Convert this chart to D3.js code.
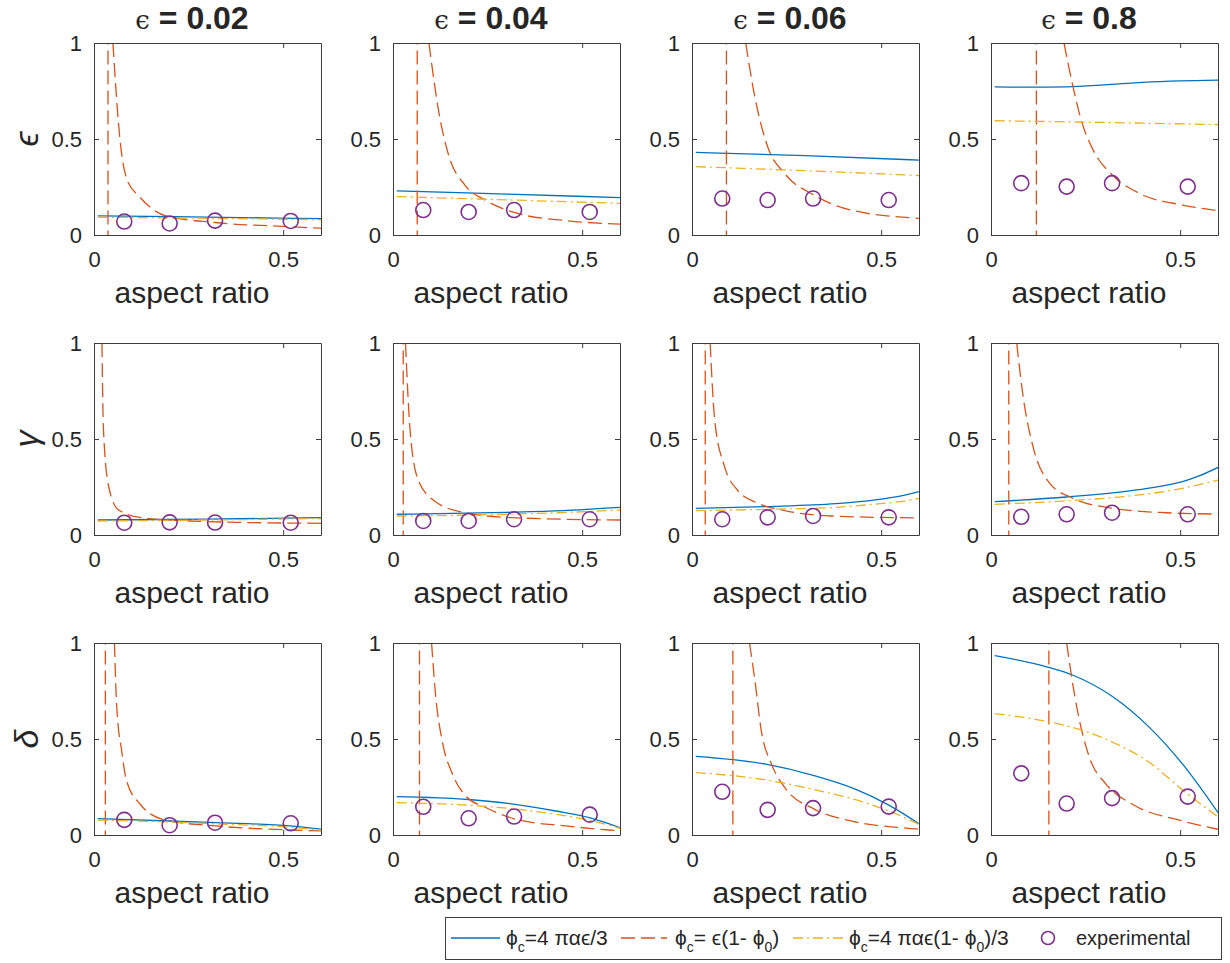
<!DOCTYPE html>
<html>
<head>
<meta charset="utf-8">
<script src="https://cdn.jsdelivr.net/npm/d3@7"></script>
<style>
  body { margin: 0; background: #fff; }
  text { font-family: "Liberation Sans", Arial, sans-serif; fill: #262626; }
</style>
</head>
<body>
<svg id="chart" width="1230" height="963"></svg>
<script>
// column titles (epsilon) and row quantities
const epsilonValues = ['0.02', '0.04', '0.06', '0.8'];
const rowLabels = ['ϵ', 'γ', 'δ'];
const xTicks = [0, 0.5];
const yTicks = [0, 0.5, 1];
const experimentalX = [0.08, 0.2, 0.32, 0.52];

// phi_c = 4 pi alpha eps / 3   [row][col] -> [aspect ratio, value]
const blueSeries = [
  [
    [[0.01, 0.10], [0.3, 0.093], [0.6, 0.085]],
    [[0.01, 0.23], [0.3, 0.213], [0.6, 0.195]],
    [[0.01, 0.43], [0.3, 0.413], [0.6, 0.39]],
    [[0.01, 0.772], [0.1, 0.77], [0.2, 0.772], [0.3, 0.782], [0.4, 0.795], [0.5, 0.803], [0.6, 0.807]]
  ],
  [
    [[0.01, 0.078], [0.3, 0.083], [0.6, 0.09]],
    [[0.01, 0.108], [0.3, 0.118], [0.45, 0.127], [0.6, 0.144]],
    [[0.01, 0.139], [0.2, 0.148], [0.38, 0.163], [0.48, 0.182], [0.55, 0.202], [0.6, 0.226]],
    [[0.01, 0.174], [0.2, 0.198], [0.375, 0.232], [0.45, 0.255], [0.506, 0.278], [0.55, 0.308], [0.6, 0.352]]
  ],
  [
    [[0.01, 0.085], [0.2, 0.073], [0.323, 0.064], [0.519, 0.047], [0.6, 0.03]],
    [[0.01, 0.2], [0.2, 0.185], [0.323, 0.16], [0.43, 0.125], [0.519, 0.09], [0.6, 0.038]],
    [[0.01, 0.41], [0.192, 0.37], [0.323, 0.309], [0.43, 0.24], [0.519, 0.157], [0.6, 0.059]],
    [[0.01, 0.934], [0.147, 0.876], [0.217, 0.832], [0.322, 0.72], [0.418, 0.562], [0.506, 0.37], [0.6, 0.117]]
  ]
];

// phi_c = eps (1 - phi_0)
const redSeries = [
  [
    [[0.05, 1.0], [0.069, 0.49], [0.087, 0.29], [0.12, 0.2], [0.19, 0.10], [0.32, 0.065], [0.52, 0.043], [0.6, 0.035]],
    [[0.095, 1.0], [0.122, 0.63], [0.148, 0.41], [0.19, 0.26], [0.245, 0.18], [0.323, 0.116], [0.457, 0.075], [0.6, 0.057]],
    [[0.142, 1.0], [0.166, 0.72], [0.2, 0.46], [0.245, 0.32], [0.325, 0.205], [0.42, 0.13], [0.6, 0.087]],
    [[0.193, 1.0], [0.217, 0.77], [0.239, 0.595], [0.27, 0.443], [0.322, 0.31], [0.392, 0.217], [0.506, 0.156], [0.6, 0.127]]
  ],
  [
    [[0.021, 1.0], [0.025, 0.55], [0.039, 0.25], [0.065, 0.13], [0.128, 0.09], [0.253, 0.073], [0.378, 0.066], [0.6, 0.061]],
    [[0.033, 1.0], [0.045, 0.55], [0.066, 0.29], [0.108, 0.18], [0.19, 0.116], [0.317, 0.09], [0.6, 0.078]],
    [[0.048, 1.0], [0.06, 0.6], [0.086, 0.356], [0.12, 0.234], [0.175, 0.165], [0.245, 0.127], [0.368, 0.099], [0.6, 0.089]],
    [[0.068, 1.0], [0.085, 0.72], [0.111, 0.46], [0.155, 0.27], [0.217, 0.191], [0.322, 0.139], [0.462, 0.116], [0.6, 0.109]]
  ],
  [
    [[0.054, 1.0], [0.06, 0.67], [0.073, 0.44], [0.086, 0.283], [0.122, 0.16], [0.19, 0.077], [0.323, 0.047], [0.519, 0.026], [0.6, 0.021]],
    [[0.102, 1.0], [0.113, 0.72], [0.13, 0.49], [0.157, 0.318], [0.192, 0.204], [0.245, 0.143], [0.325, 0.082], [0.457, 0.047], [0.571, 0.026], [0.6, 0.022]],
    [[0.152, 1.0], [0.166, 0.81], [0.183, 0.545], [0.21, 0.37], [0.245, 0.248], [0.323, 0.135], [0.42, 0.073], [0.571, 0.035], [0.6, 0.03]],
    [[0.2, 1.0], [0.213, 0.824], [0.232, 0.614], [0.26, 0.405], [0.304, 0.265], [0.374, 0.16], [0.506, 0.073], [0.6, 0.03]]
  ]
];

// aspect ratio where the red curve jumps (drawn as a vertical dashed segment)
const redPole = [
  [0.037, 0.064, 0.091, 0.12],
  [null, 0.027, 0.035, 0.047],
  [0.03, 0.07, 0.108, 0.153]
];

// phi_c = 4 pi alpha eps (1 - phi_0) / 3
const yellowSeries = [
  [
    [[0.01, 0.093], [0.3, 0.087], [0.6, 0.08]],
    [[0.01, 0.20], [0.3, 0.183], [0.6, 0.165]],
    [[0.01, 0.356], [0.3, 0.335], [0.6, 0.31]],
    [[0.01, 0.595], [0.3, 0.586], [0.6, 0.575]]
  ],
  [
    [[0.01, 0.073], [0.3, 0.078], [0.6, 0.086]],
    [[0.01, 0.099], [0.3, 0.108], [0.45, 0.117], [0.6, 0.13]],
    [[0.01, 0.127], [0.2, 0.134], [0.38, 0.144], [0.48, 0.16], [0.55, 0.174], [0.6, 0.191]],
    [[0.01, 0.16], [0.2, 0.178], [0.375, 0.205], [0.45, 0.224], [0.506, 0.243], [0.55, 0.262], [0.6, 0.286]]
  ],
  [
    [[0.01, 0.077], [0.2, 0.068], [0.323, 0.058], [0.519, 0.04], [0.6, 0.025]],
    [[0.01, 0.169], [0.2, 0.155], [0.323, 0.135], [0.43, 0.108], [0.519, 0.077], [0.6, 0.035]],
    [[0.01, 0.325], [0.192, 0.288], [0.323, 0.236], [0.43, 0.185], [0.519, 0.126], [0.6, 0.056]],
    [[0.01, 0.632], [0.147, 0.592], [0.234, 0.55], [0.322, 0.483], [0.418, 0.379], [0.506, 0.235], [0.6, 0.094]]
  ]
];

// experimental values at experimentalX
const experimentalY = [
  [[0.07, 0.06, 0.075, 0.073], [0.13, 0.12, 0.13, 0.12], [0.19, 0.182, 0.19, 0.182], [0.27, 0.252, 0.27, 0.252]],
  [[0.064, 0.066, 0.065, 0.064], [0.073, 0.073, 0.082, 0.082], [0.082, 0.092, 0.099, 0.092], [0.095, 0.108, 0.116, 0.108]],
  [[0.079, 0.051, 0.064, 0.061], [0.147, 0.087, 0.096, 0.106], [0.225, 0.131, 0.14, 0.148], [0.321, 0.164, 0.192, 0.2]]
];

const legendLabels = [
  [{ t: 'ϕ' }, { t: 'c', sub: true }, { t: '=4 παϵ/3' }],
  [{ t: 'ϕ' }, { t: 'c', sub: true }, { t: '= ϵ(1- ϕ' }, { t: '0', sub: true }, { t: ')' }],
  [{ t: 'ϕ' }, { t: 'c', sub: true }, { t: '=4 παϵ(1- ϕ' }, { t: '0', sub: true }, { t: ')/3' }],
  [{ t: 'experimental' }]
];

const colors = { blue: '#0072BD', red: '#D95319', yellow: '#EDB120', purple: '#7E2F8E' };
const redDash = '14,6';
const yellowDash = '10,4,2,4';

const panelLeft = [94, 393, 692, 991];
const panelTop = [43, 343, 643];
const pw = 227, ph = 192;

const svg = d3.select('#chart');
const defs = svg.append('defs');

function styleAxis(g) {
  g.selectAll('.domain').attr('stroke', '#3c3c3c').attr('stroke-width', 1);
  g.selectAll('.tick line').attr('stroke', '#3c3c3c').attr('stroke-width', 1);
  g.selectAll('text').attr('font-size', 22).attr('font-family', '"Liberation Sans", Arial, sans-serif').attr('fill', '#262626');
}

rowLabels.forEach((lab, r) => {
  epsilonValues.forEach((ev, c) => {
    const left = panelLeft[c], top = panelTop[r];
    const x = d3.scaleLinear().domain([0, 0.6]).range([left, left + pw]);
    const y = d3.scaleLinear().domain([0, 1]).range([top + ph, top]);
    const line = d3.line().x(d => x(d[0])).y(d => y(d[1])).curve(d3.curveMonotoneX);

    const id = `clip-${r}-${c}`;
    defs.append('clipPath').attr('id', id)
      .append('rect').attr('x', left).attr('y', top).attr('width', pw).attr('height', ph);

    const g = svg.append('g').attr('clip-path', `url(#${id})`);

    g.append('path').datum(blueSeries[r][c])
      .attr('d', line).attr('fill', 'none')
      .attr('stroke', colors.blue).attr('stroke-width', 1.3);

    if (redPole[r][c] !== null) {
      g.append('line')
        .attr('x1', x(redPole[r][c])).attr('x2', x(redPole[r][c]))
        .attr('y1', y(-0.05)).attr('y2', y(1.05))
        .attr('stroke', colors.red).attr('stroke-width', 1.3)
        .attr('stroke-dasharray', redDash);
    }
    g.append('path').datum(redSeries[r][c])
      .attr('d', line).attr('fill', 'none')
      .attr('stroke', colors.red).attr('stroke-width', 1.3)
      .attr('stroke-dasharray', redDash);

    g.append('path').datum(yellowSeries[r][c])
      .attr('d', line).attr('fill', 'none')
      .attr('stroke', colors.yellow).attr('stroke-width', 1.3)
      .attr('stroke-dasharray', yellowDash);

    svg.append('g').selectAll('circle')
      .data(experimentalY[r][c].map((v, i) => [experimentalX[i], v]))
      .join('circle')
      .attr('cx', d => x(d[0])).attr('cy', d => y(d[1])).attr('r', 7.5)
      .attr('fill', 'none').attr('stroke', colors.purple).attr('stroke-width', 1.6);

    // box with inward ticks on all four sides
    svg.append('g').attr('transform', `translate(0,${top + ph})`)
      .call(d3.axisBottom(x).tickValues(xTicks).tickFormat(d3.format('')).tickSize(-5).tickSizeOuter(0).tickPadding(16))
      .call(styleAxis);
    svg.append('g').attr('transform', `translate(0,${top})`)
      .call(d3.axisTop(x).tickValues(xTicks).tickFormat('').tickSize(-5).tickSizeOuter(0))
      .call(styleAxis);
    svg.append('g').attr('transform', `translate(${left},0)`)
      .call(d3.axisLeft(y).tickValues(yTicks).tickFormat(d3.format('')).tickSize(-5).tickSizeOuter(0).tickPadding(12))
      .call(styleAxis);
    svg.append('g').attr('transform', `translate(${left + pw},0)`)
      .call(d3.axisRight(y).tickValues(yTicks).tickFormat('').tickSize(-5).tickSizeOuter(0))
      .call(styleAxis);

    svg.append('text')
      .attr('x', left + 98).attr('y', top + ph + 68)
      .attr('text-anchor', 'middle').attr('font-size', 30)
      .text('aspect ratio');

    if (r === 0) {
      const t = svg.append('text')
        .attr('x', left + 98).attr('y', 29)
        .attr('text-anchor', 'middle');
      t.append('tspan').attr('font-family', '"DejaVu Serif", serif').attr('font-size', 26).text('ϵ');
      t.append('tspan').attr('font-weight', 'bold').attr('font-size', 32).text('\u00A0= ' + ev);
    }
    if (c === 0) {
      svg.append('text')
        .attr('transform', `translate(26,${top + ph / 2}) rotate(-90)`)
        .attr('text-anchor', 'middle').attr('dominant-baseline', 'central')
        .attr('font-family', '"Liberation Serif", serif').attr('font-style', 'italic')
        .attr('font-size', 34)
        .text(lab);
    }
  });
});

// legend
const legend = svg.append('g');
legend.append('rect')
  .attr('x', 445.5).attr('y', 917.5).attr('width', 776).attr('height', 42)
  .attr('fill', '#fff').attr('stroke', '#3c3c3c').attr('stroke-width', 1);

const ly = 938;
legend.append('line').attr('x1', 451).attr('x2', 500).attr('y1', ly).attr('y2', ly)
  .attr('stroke', colors.blue).attr('stroke-width', 1.3);
legend.append('line').attr('x1', 621).attr('x2', 667).attr('y1', ly).attr('y2', ly)
  .attr('stroke', colors.red).attr('stroke-width', 1.3).attr('stroke-dasharray', redDash);
legend.append('line').attr('x1', 793).attr('x2', 845).attr('y1', ly).attr('y2', ly)
  .attr('stroke', colors.yellow).attr('stroke-width', 1.3).attr('stroke-dasharray', yellowDash);
legend.append('circle').attr('cx', 1048).attr('cy', ly).attr('r', 6.5)
  .attr('fill', 'none').attr('stroke', colors.purple).attr('stroke-width', 1.6);

const legendX = [506, 675, 849, 1076];
legendLabels.forEach((parts, i) => {
  const t = legend.append('text').attr('x', legendX[i]).attr('y', ly + 7)
    .attr('font-size', i === 3 ? 20 : 21);
  let shifted = false;
  parts.forEach(p => {
    const ts = t.append('tspan').text(p.t);
    if (p.sub) { ts.attr('font-size', 14).attr('dy', 7); shifted = true; }
    else if (shifted) { ts.attr('dy', -7); shifted = false; }
  });
});
</script>
</body>
</html>
